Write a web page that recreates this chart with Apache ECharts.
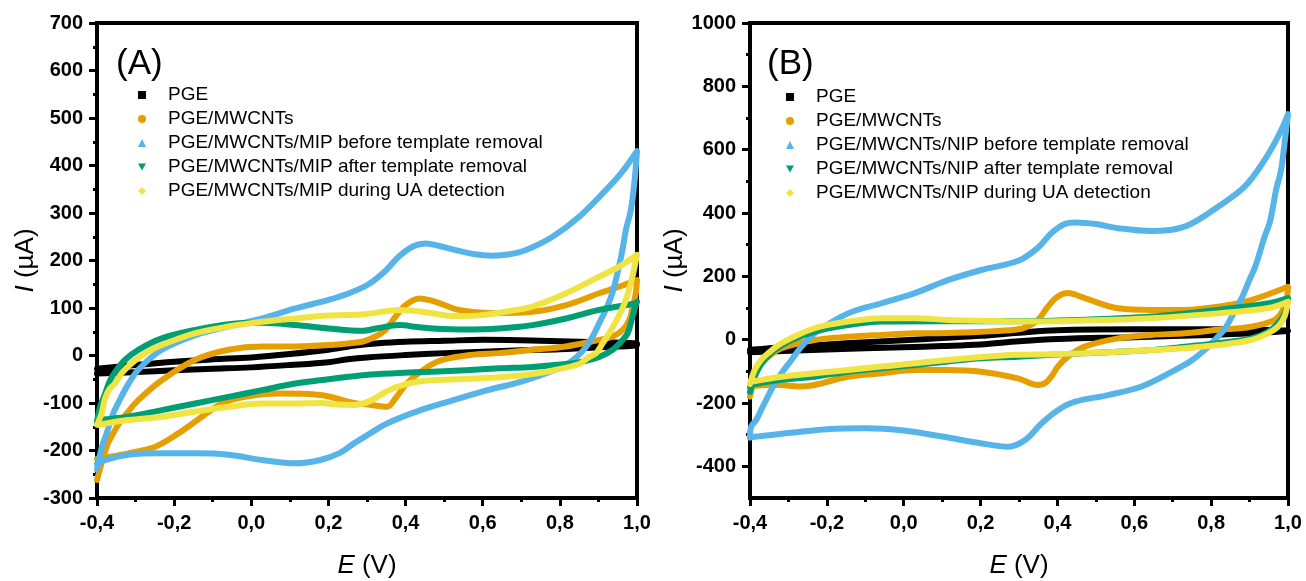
<!DOCTYPE html>
<html>
<head>
<meta charset="utf-8">
<script src="https://cdn.jsdelivr.net/npm/echarts@6/dist/echarts.min.js"></script>
<style>html,body{margin:0;padding:0;background:#fff}#c{width:1306px;height:581px}</style>
</head>
<body>
<div id="c"></div>
<script>
// ---------- DATA ----------
const NAMES_A = ['PGE', 'PGE/MWCNTs', 'PGE/MWCNTs/MIP before template removal', 'PGE/MWCNTs/MIP after template removal', 'PGE/MWCNTs/MIP during UA detection'];
const NAMES_B = ['PGE', 'PGE/MWCNTs', 'PGE/MWCNTs/NIP before template removal', 'PGE/MWCNTs/NIP after template removal', 'PGE/MWCNTs/NIP during UA detection'];
const PANEL_LABELS = ['(A)', '(B)'];
const X_TICKS = [-0.4, -0.2, 0.0, 0.2, 0.4, 0.6, 0.8, 1.0];
const Y_TICKS_A = [-300, -200, -100, 0, 100, 200, 300, 400, 500, 600, 700];
const Y_TICKS_B = [-400, -200, 0, 200, 400, 600, 800, 1000];
const Y_MINOR_B = [-300, -100, 100, 300, 500, 700, 900];

// Panel A  [E (V), I (uA)]  forward scan then reverse scan
const A_PGE = [[-0.4,-28],[-0.3,-20],[-0.2,-13],[-0.1,-8],[0.0,-4],[0.1,3],[0.2,12],[0.27,21],[0.33,26],[0.4,29],[0.5,31],[0.6,33],[0.7,32],[0.8,30],[0.9,28],[1.0,25],
  [1.0,22],[0.9,17],[0.8,13],[0.7,11],[0.6,8],[0.5,5],[0.4,1],[0.3,-4],[0.25,-8],[0.2,-14],[0.1,-20],[0.0,-25],[-0.1,-28],[-0.2,-31],[-0.3,-35],[-0.4,-38]];
const A_MWCNT = [[-0.4,-262],[-0.375,-192],[-0.358,-164],[-0.345,-146],[-0.323,-122],[-0.293,-94],[-0.232,-52],[-0.145,-9],[-0.059,12],[0.028,19],[0.114,19],[0.2,22],[0.287,29],[0.322,40],[0.348,54],[0.374,82],[0.4,106],[0.435,120],[0.478,113],[0.538,96],[0.625,89],[0.729,92],[0.816,106],[0.902,131],[0.954,145],[1.0,159],
  [0.997,131],[0.989,103],[0.98,75],[0.963,54],[0.937,40],[0.902,33],[0.816,19],[0.729,12],[0.642,5],[0.568,1],[0.482,-13],[0.422,-45],[0.396,-66],[0.374,-90],[0.352,-108],[0.31,-104],[0.266,-100],[0.179,-83],[0.071,-80],[-0.016,-87],[-0.076,-101],[-0.128,-129],[-0.189,-164],[-0.249,-192],[-0.319,-206],[-0.388,-216],[-0.4,-218]];
const A_MIP_BEFORE = [[-0.4,-240],[-0.388,-195],[-0.375,-164],[-0.358,-122],[-0.345,-100],[-0.323,-66],[-0.293,-30],[-0.232,12],[-0.145,43],[-0.06,61],[0.028,78],[0.114,99],[0.2,117],[0.25,130],[0.304,150],[0.35,180],[0.382,208],[0.42,230],[0.452,236],[0.49,230],[0.53,222],[0.58,213],[0.625,210],[0.67,213],[0.712,222],[0.781,250],[0.85,292],[0.919,348],[0.96,385],[1.0,430],
  [0.993,362],[0.984,306],[0.971,264],[0.963,226],[0.954,190],[0.937,134],[0.919,96],[0.902,68],[0.885,40],[0.865,15],[0.83,-12],[0.785,-31],[0.7,-55],[0.612,-73],[0.52,-95],[0.439,-115],[0.352,-143],[0.3,-168],[0.266,-185],[0.23,-205],[0.179,-220],[0.114,-227],[0.028,-220],[-0.059,-209],[-0.145,-206],[-0.232,-206],[-0.319,-209],[-0.379,-220],[-0.4,-228]];
const A_MIP_AFTER = [[-0.4,-140],[-0.392,-108],[-0.379,-80],[-0.366,-52],[-0.349,-30],[-0.327,-9],[-0.293,12],[-0.232,36],[-0.145,54],[-0.059,66],[0.028,69],[0.114,64],[0.2,57],[0.287,52],[0.33,58],[0.383,64],[0.43,60],[0.469,57],[0.556,55],[0.642,57],[0.729,64],[0.816,78],[0.902,96],[0.997,110],[1.0,113],
  [0.993,96],[0.984,68],[0.976,47],[0.963,33],[0.937,12],[0.902,-3],[0.859,-13],[0.816,-18],[0.729,-24],[0.642,-27],[0.556,-31],[0.469,-34],[0.383,-37],[0.296,-41],[0.2,-50],[0.114,-59],[0.028,-73],[-0.059,-87],[-0.145,-101],[-0.232,-115],[-0.319,-129],[-0.397,-136],[-0.4,-138]];
const A_MIP_UA = [[-0.4,-146],[-0.388,-122],[-0.379,-90],[-0.366,-69],[-0.353,-59],[-0.336,-37],[-0.31,-16],[-0.275,5],[-0.232,22],[-0.145,47],[-0.059,61],[0.028,71],[0.114,78],[0.2,84],[0.296,87],[0.383,96],[0.42,94],[0.469,89],[0.526,83],[0.6,85],[0.68,95],[0.729,103],[0.816,131],[0.902,166],[0.954,187],[1.0,212],
  [0.989,169],[0.98,141],[0.971,117],[0.958,92],[0.945,71],[0.928,47],[0.911,26],[0.894,5],[0.872,-5],[0.85,-18],[0.785,-31],[0.7,-42],[0.612,-47],[0.53,-50],[0.439,-54],[0.39,-63],[0.352,-75],[0.31,-95],[0.266,-104],[0.22,-103],[0.179,-100],[0.114,-101],[0.028,-101],[-0.059,-108],[-0.145,-118],[-0.232,-129],[-0.319,-136],[-0.397,-146]];

// Panel B
const B_PGE = [[-0.4,-32],[-0.3,-22],[-0.2,-15],[-0.1,-8],[0.0,-2],[0.1,5],[0.2,12],[0.3,22],[0.4,30],[0.6,33],[0.8,33],[1.0,28],
  [0.9,20],[0.8,15],[0.6,8],[0.4,2],[0.3,-5],[0.2,-15],[0.1,-20],[0.0,-24],[-0.2,-31],[-0.4,-40]];
const B_MWCNT = [[-0.4,-180],[-0.392,-138],[-0.384,-106],[-0.371,-75],[-0.353,-54],[-0.318,-27],[-0.232,-1],[-0.145,9],[-0.058,15],[0.029,20],[0.115,21],[0.202,25],[0.289,31],[0.32,40],[0.349,62],[0.375,104],[0.401,136],[0.427,147],[0.471,131],[0.558,99],[0.645,94],[0.731,94],[0.818,104],[0.904,125],[1.0,167],
  [0.996,125],[0.982,83],[0.965,62],[0.904,41],[0.818,31],[0.731,20],[0.645,15],[0.558,4],[0.471,-22],[0.427,-54],[0.401,-85],[0.384,-117],[0.367,-138],[0.349,-143],[0.297,-122],[0.202,-101],[0.115,-96],[0.029,-96],[-0.058,-106],[-0.145,-117],[-0.232,-143],[-0.275,-148],[-0.318,-143],[-0.362,-143],[-0.397,-148]];
const B_NIP_BEFORE = [[-0.4,-310],[-0.397,-275],[-0.384,-254],[-0.371,-222],[-0.358,-190],[-0.34,-148],[-0.318,-106],[-0.292,-64],[-0.266,-22],[-0.232,20],[-0.145,83],[-0.058,115],[0.029,147],[0.115,188],[0.202,220],[0.3,250],[0.349,290],[0.384,336],[0.419,365],[0.45,370],[0.5,365],[0.558,352],[0.644,343],[0.731,357],[0.818,420],[0.887,483],[0.939,567],[0.974,641],[0.996,699],[1.0,712],
  [0.991,620],[0.982,536],[0.969,473],[0.961,420],[0.952,368],[0.939,325],[0.926,273],[0.913,225],[0.9,190],[0.879,130],[0.857,80],[0.836,35],[0.818,10],[0.793,-22],[0.75,-65],[0.706,-96],[0.619,-148],[0.532,-175],[0.446,-196],[0.402,-222],[0.359,-264],[0.316,-317],[0.272,-338],[0.2,-327],[0.1,-306],[0.0,-287],[-0.1,-280],[-0.2,-283],[-0.3,-295],[-0.4,-308]];
const B_NIP_AFTER = [[-0.4,-165],[-0.388,-117],[-0.375,-85],[-0.358,-59],[-0.336,-33],[-0.292,-1],[-0.232,25],[-0.145,46],[-0.058,57],[0.1,58],[0.3,58],[0.45,62],[0.645,73],[0.818,94],[0.95,115],[1.0,131],
  [0.991,83],[0.974,52],[0.948,25],[0.904,4],[0.818,-11],[0.731,-22],[0.645,-33],[0.558,-38],[0.471,-43],[0.384,-48],[0.297,-54],[0.202,-59],[0.115,-69],[0.029,-80],[-0.058,-90],[-0.145,-101],[-0.232,-117],[-0.318,-127],[-0.397,-143],[-0.4,-150]];
const B_NIP_UA = [[-0.4,-140],[-0.388,-96],[-0.371,-64],[-0.353,-43],[-0.318,-11],[-0.232,36],[-0.145,57],[-0.058,68],[0.029,68],[0.115,62],[0.202,60],[0.3,57],[0.45,60],[0.645,68],[0.818,83],[0.95,100],[1.0,120],
  [0.991,73],[0.974,41],[0.948,20],[0.904,-1],[0.818,-17],[0.731,-27],[0.645,-33],[0.558,-38],[0.471,-43],[0.384,-46],[0.289,-48],[0.115,-64],[-0.058,-85],[-0.232,-106],[-0.318,-117],[-0.397,-133]];

// ---------- STYLE ----------
const FONT = "'Liberation Sans', Arial, Helvetica, sans-serif";
const COLORS = ['#000000', '#E69F00', '#56B4E9', '#009E73', '#F0E442'];
const ICONS = ['rect', 'circle', 'triangle', 'path://M0,0L10,0L5,9Z', 'diamond'];
const DATA_A = [A_PGE, A_MWCNT, A_MIP_BEFORE, A_MIP_AFTER, A_MIP_UA];
const DATA_B = [B_PGE, B_MWCNT, B_NIP_BEFORE, B_NIP_AFTER, B_NIP_UA];

function fmtX(v) { if (Math.abs(v) < 1e-9) return '0,0'; return v.toFixed(1).replace('.', ','); }
function fmtY(v) { return String(Math.round(v)); }

function mkSeries(name, data, color, gi) {
  return {
    type: 'line', name: name, data: data, xAxisIndex: gi, yAxisIndex: gi,
    smooth: 0.35, showSymbol: false, symbol: 'none',
    lineStyle: { color: color, width: 6, cap: 'round', join: 'round' },
    itemStyle: { color: color }, clip: true, silent: true, animation: false
  };
}

const tickLabelBase = { fontSize: 20, fontWeight: 'bold', color: '#000', fontFamily: FONT };
const axisLine = { show: true, onZero: false, lineStyle: { color: '#000', width: 4 } };
const axisTick = { show: true, inside: false, length: 8, lineStyle: { color: '#000', width: 3 } };
const minorTick = { show: true, splitNumber: 2, length: 4, lineStyle: { color: '#000', width: 3 } };
const nameStyle = { fontSize: 26, color: '#000', fontFamily: FONT, rich: { i: { fontStyle: 'italic', fontSize: 26, color: '#000', fontFamily: FONT } } };

function xAx(gi) {
  return {
    gridIndex: gi, type: 'value', min: X_TICKS[0], max: X_TICKS[X_TICKS.length - 1], interval: 0.2,
    axisLine: axisLine, axisTick: axisTick, minorTick: minorTick, splitLine: { show: false },
    axisLabel: Object.assign({ formatter: fmtX, margin: 15 }, tickLabelBase),
    name: '{i|E} (V)', nameLocation: 'middle', nameGap: 55, nameTextStyle: nameStyle
  };
}

const series = [];
NAMES_A.forEach((n, i) => series.push(mkSeries(n, DATA_A[i], COLORS[i], 0)));
NAMES_B.forEach((n, i) => series.push(mkSeries(n, DATA_B[i], COLORS[i], 1)));

function mkLegend(names, left, top) {
  return {
    orient: 'vertical', left: left, top: top, padding: 0, itemGap: 4,
    itemWidth: 8, itemHeight: 8, selectedMode: false,
    lineStyle: { width: 0 },
    data: names.map((n, i) => ({ name: n, icon: ICONS[i], itemStyle: { color: COLORS[i] } })),
    textStyle: { fontSize: 19, color: '#000', fontFamily: FONT, lineHeight: 20, padding: [0, 0, 0, 17] }
  };
}

const option = {
  animation: false,
  backgroundColor: '#fff',
  title: [
    { text: PANEL_LABELS[0], left: 116, top: 47, padding: 0, textStyle: { fontSize: 35, fontWeight: 'normal', color: '#000', fontFamily: FONT } },
    { text: PANEL_LABELS[1], left: 767, top: 47, padding: 0, textStyle: { fontSize: 35, fontWeight: 'normal', color: '#000', fontFamily: FONT } }
  ],
  legend: [mkLegend(NAMES_A, 138, 85), mkLegend(NAMES_B, 786, 87)],
  grid: [
    { left: 97, top: 23, width: 540, height: 475, show: true, borderColor: '#000', borderWidth: 4, backgroundColor: 'transparent', outerBoundsMode: 'none', containLabel: false },
    { left: 750, top: 23, width: 538, height: 475, show: true, borderColor: '#000', borderWidth: 4, backgroundColor: 'transparent', outerBoundsMode: 'none', containLabel: false }
  ],
  xAxis: [xAx(0), xAx(1)],
  yAxis: [
    {
      gridIndex: 0, type: 'value', min: Y_TICKS_A[0], max: Y_TICKS_A[Y_TICKS_A.length - 1], interval: 100, position: 'left',
      axisLine: axisLine, axisTick: axisTick, minorTick: minorTick, splitLine: { show: false },
      axisLabel: Object.assign({ formatter: fmtY, margin: 14 }, tickLabelBase),
      name: '{i|I} (µA)', nameLocation: 'middle', nameGap: 58, nameTextStyle: nameStyle
    },
    {
      gridIndex: 1, type: 'value', min: -500, max: 1000, interval: 100, position: 'left',
      axisLine: axisLine, axisTick: Object.assign({ customValues: Y_TICKS_B }, axisTick), splitLine: { show: false },
      axisLabel: Object.assign({ customValues: Y_TICKS_B, formatter: fmtY, margin: 14 }, tickLabelBase),
      name: '{i|I} (µA)', nameLocation: 'middle', nameGap: 60, nameTextStyle: nameStyle
    },
    {
      gridIndex: 1, type: 'value', min: -500, max: 1000, interval: 100, position: 'left', offset: 0,
      axisLine: { show: false, onZero: false }, splitLine: { show: false },
      axisTick: { show: true, inside: false, length: 4, customValues: Y_MINOR_B, lineStyle: { color: '#000', width: 3 } },
      axisLabel: { show: false }
    }
  ],
  series: series
};

const chart = echarts.init(document.getElementById('c'), null, { renderer: 'canvas' });
chart.setOption(option);
</script>
</body>
</html>
